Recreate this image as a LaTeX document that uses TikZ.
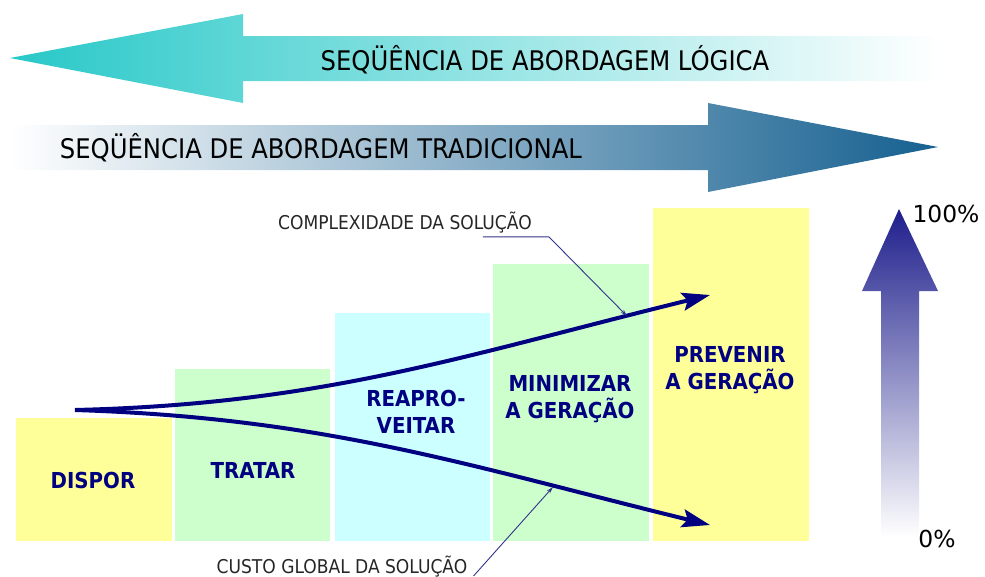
\documentclass[tikz,border=0pt]{standalone}
\usepackage{fontspec}
\setmainfont{DejaVu Sans Condensed}
\newfontfamily\largo{DejaVu Sans}
\usetikzlibrary{arrows.meta}

\definecolor{azulmarinho}{RGB}{0,0,128}
\definecolor{turquesa}{RGB}{40,200,200}
\definecolor{petroleo}{RGB}{22,96,144}
\definecolor{anil}{RGB}{30,30,140}
\definecolor{amarelo}{RGB}{255,255,153}
\definecolor{verde}{RGB}{204,255,204}
\definecolor{ciano}{RGB}{204,255,255}
\definecolor{linha}{RGB}{51,51,140}

\begin{document}
\begin{tikzpicture}[x=1pt,y=-1pt,
  seta/.style={line width=4pt,draw=azulmarinho,-{Stealth[length=28pt,width=18pt,inset=5pt]}},
  guia/.style={line width=0.9pt,draw=linha,-{Stealth[length=7pt,width=4pt]}},
  etapa/.style={font=\fontsize{22}{27}\selectfont\bfseries,text=azulmarinho,align=center,inner sep=0pt},
  titulo/.style={font=\fontsize{27}{32}\selectfont,inner sep=0pt,anchor=base},
  nota/.style={font=\fontsize{19}{23}\selectfont,text=black!85,inner sep=0pt,anchor=base},
  escala/.style={font=\largo\fontsize{23.4}{28}\selectfont,inner sep=0pt,anchor=base}]
  \useasboundingbox (0,0) rectangle (985,576);

  % setas de abordagem
  \shade[left color=turquesa,right color=white] (10,58) -- (243,14) -- (243,36) -- (940,36)
    -- (940,81) -- (243,81) -- (243,103) -- cycle;
  \shade[left color=white,right color=petroleo] (10,125) -- (708,125) -- (708,103) -- (938,147)
    -- (708,192) -- (708,170) -- (10,170) -- cycle;
  \node[titulo] (logica) at (545,70) {SEQÜÊNCIA DE ABORDAGEM LÓGICA};
  \node[titulo] (tradicional) at (321,158) {SEQÜÊNCIA DE ABORDAGEM TRADICIONAL};

  % degraus
  \fill[amarelo] (16,418) rectangle (172,541);
  \fill[verde] (175,369) rectangle (330,541);
  \fill[ciano] (335,313) rectangle (490,541);
  \fill[verde] (493,264) rectangle (649,541);
  \fill[amarelo] (653,208) rectangle (809,541);

  \node[etapa,anchor=base] (dispor) at (93,488) {DISPOR};
  \node[etapa,anchor=base] (tratar) at (253,478) {TRATAR};
  \node[etapa] (reaproveitar) at (416,412) {REAPRO-\\VEITAR};
  \node[etapa] (minimizar) at (570,399) {MINIMIZAR\\A GERAÇÃO};
  \node[etapa] (prevenir) at (730,370) {PREVENIR\\A GERAÇÃO};

  % curvas
  \coordinate (origem) at (75,410);
  \coordinate (complexidade) at (710,295);
  \coordinate (custo) at (710,525);
  \draw[seta] (origem) .. controls +(250,-6) and +(-245,60) .. (complexidade);
  \draw[seta] (origem) .. controls +(250,8) and +(-245,-60) .. (custo);

  % legendas
  \node[nota] (lblcomplex) at (405,229) {COMPLEXIDADE DA SOLUÇÃO};
  \node[nota] (lblcusto) at (342,573) {CUSTO GLOBAL DA SOLUÇÃO};
  \coordinate (pontacomplex) at (627,316);
  \coordinate (pontacusto) at (553,487);
  \draw[guia] ([xshift=-49pt,yshift=-4pt]lblcomplex.south east) -- ++(66,0) -- (pontacomplex);
  \draw[guia] ([xshift=6pt,yshift=-3pt]lblcusto.base east) -- (pontacusto);

  % escala
  \shade[top color=anil,bottom color=white] (899,209) -- (938,291) -- (919,291) -- (919,537)
    -- (881,537) -- (881,291) -- (862,291) -- cycle;
  \node[escala] (cem) at (946,222) {100\%};
  \node[escala] (zero) at (937,547) {0\%};
\end{tikzpicture}
\end{document}
